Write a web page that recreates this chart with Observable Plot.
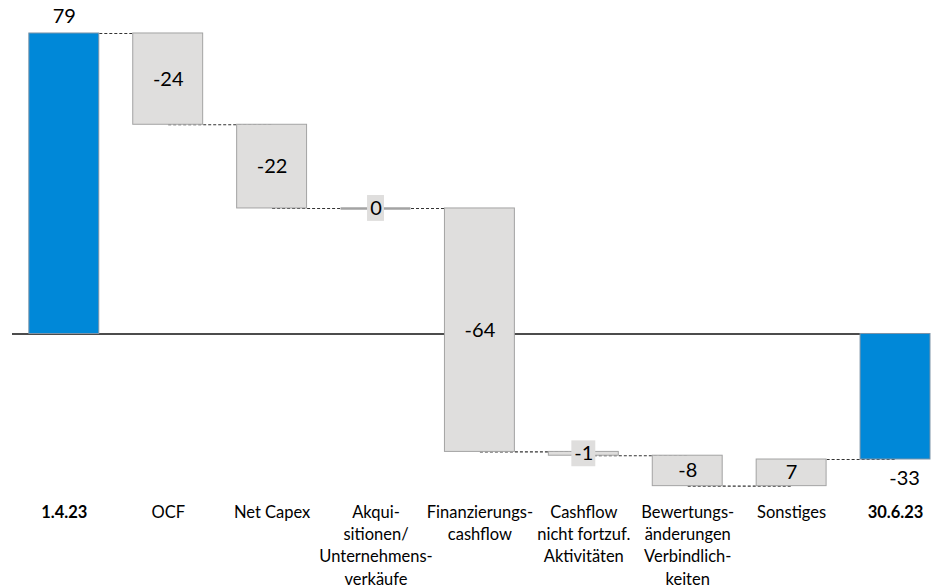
<!DOCTYPE html>
<html><head><meta charset="utf-8">
<script src="https://cdn.jsdelivr.net/npm/d3@7"></script>
<script src="https://cdn.jsdelivr.net/npm/@observablehq/plot@0.6"></script>
<style>body{margin:0;background:#fff} #chart{width:936px;height:588px}</style>
</head><body><div id="chart"></div>
<script>
const categories = ["1.4.23","OCF","Net Capex","Akqui-\nsitionen/\nUnternehmens-\nverkäufe","Finanzierungs-\ncashflow","Cashflow\nnicht fortzuf.\nAktivitäten","Bewertungs-\nänderungen\nVerbindlich-\nkeiten","Sonstiges","30.6.23"];
const values = [79, -24, -22, 0, -64, -1, -8, 7, -33];
const kinds = ["total","step","step","step","step","step","step","step","total"];

let run = 0;
const rows = categories.map((c, i) => {
  let y1, y2;
  if (kinds[i] === "total") { y1 = 0; y2 = values[i]; }
  else { y1 = run; y2 = run + values[i]; }
  run = y2;
  return {cat: c, value: values[i], kind: kinds[i], y1, y2, mid: (y1 + y2) / 2, label: String(values[i])};
});
const links = rows.slice(0, -1).map((r, i) => ({from: r.cat, to: rows[i + 1].cat, level: r.y2}));
const steps = rows.filter(r => r.kind === "step");
const totals = rows.filter(r => r.kind === "total");
const smallSteps = steps.filter(r => Math.abs(r.value) < 3);

const font = "Lato, 'Open Sans', sans-serif";
const gray = "#dfdedd", grayStroke = "#a3a3a3", blue = "#0088d8";

const chart = Plot.plot({
  width: 936, height: 588,
  marginTop: 0, marginBottom: 93, marginLeft: 12, marginRight: 6,
  x: {domain: categories, paddingInner: 0.327, paddingOuter: 0.081, align: 1, round: false, axis: null},
  y: {domain: [-42.46, 87.67], axis: null},
  style: {fontFamily: font, background: "#fff"},
  marks: [
    Plot.ruleY([0], {stroke: "#111", strokeWidth: 1.5}),
    Plot.link(links, {x1: "from", x2: "to", y1: "level", y2: "level", stroke: "#333", strokeDasharray: "3,2", strokeWidth: 1.1}),
    Plot.barY(totals, {x: "cat", y1: "y1", y2: "y2", fill: blue, stroke: "#7d94a8", strokeWidth: 1}),
    Plot.barY(steps, {x: "cat", y1: "y1", y2: "y2", fill: gray, stroke: grayStroke, strokeWidth: 1}),
    Plot.tickY(steps.filter(r => r.value === 0), {x: "cat", y: "y1", stroke: grayStroke, strokeWidth: 2.5}),
    Plot.barY(smallSteps.filter(r => r.label.length === 1), {x: "cat", y1: r => r.mid - 3.4, y2: r => r.mid + 3.4, fill: gray, insetLeft: 26.5, insetRight: 26.5}),
    Plot.barY(smallSteps.filter(r => r.label.length === 2), {x: "cat", y1: r => r.mid - 3.4, y2: r => r.mid + 3.4, fill: gray, insetLeft: 23, insetRight: 23}),
    Plot.text(steps, {x: "cat", y: "mid", text: "label", fontSize: 20, fill: "#000", lineAnchor: "middle", fontFamily: font}),
    Plot.text(totals.filter(r => r.value >= 0), {x: "cat", y: "y2", text: "label", fontSize: 20, fill: "#000", lineAnchor: "middle", dy: -17, fontFamily: font}),
    Plot.text(totals.filter(r => r.value < 0), {x: "cat", y: "y2", text: "label", fontSize: 20, fill: "#000", lineAnchor: "middle", dy: 19, dx: 9, fontFamily: font}),
    Plot.text(steps, {x: "cat", text: "cat", frameAnchor: "bottom", lineAnchor: "top", dy: 7, fontSize: 16.5, lineHeight: 1.34, fill: "#000", fontFamily: font}),
    Plot.text(totals, {x: "cat", text: "cat", frameAnchor: "bottom", lineAnchor: "top", dy: 7, fontSize: 16.5, lineHeight: 1.34, fill: "#000", fontWeight: "bold", fontFamily: font})
  ]
});
document.getElementById("chart").appendChild(chart);
</script>
</body></html>
